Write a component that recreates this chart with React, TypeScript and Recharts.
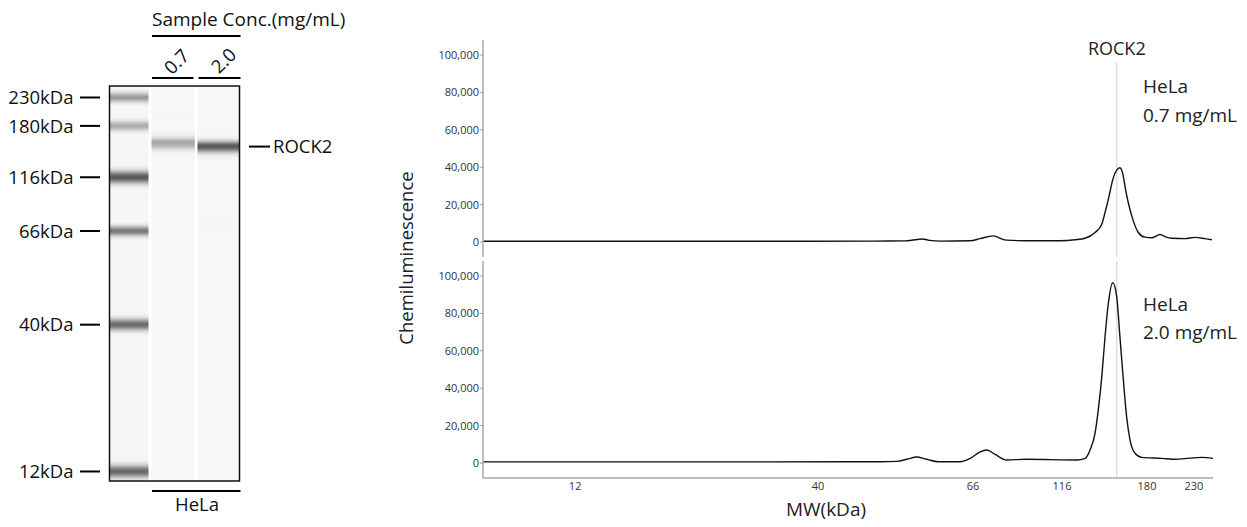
import React from 'react';
import { ComposedChart, LineChart, Line, XAxis, YAxis, ReferenceLine, ReferenceArea } from 'recharts';

// ---------------- data ----------------
// Ladder standards (kDa) and their migration distance (relative units, 12 kDa = 0)
const LADDER_MW = [12, 40, 66, 116, 180, 230];
const LADDER_MIGRATION = [0, 243, 398, 487, 572, 619];
const LADDER_INTENSITY = [0.58, 0.58, 0.52, 0.65, 0.31, 0.38];
const LADDER_BAND_SIGMA = [7, 6.5, 5.5, 7, 5.5, 5.5];

const MW_TICKS = [12, 40, 66, 116, 180, 230];
const SIGNAL_TICKS = [0, 20000, 40000, 60000, 80000, 100000];

const LANE_CONC = ['0.7', '2.0'];
const SAMPLE_NAME = 'HeLa';
const TARGET = 'ROCK2';
const TARGET_MW = 154;

// HeLa 0.7 mg/mL electropherogram
const MW_07 = [7.6, 13.6, 22.3, 36.6, 48.1, 53.0, 54.7, 56.0, 57.4, 59.3, 65.4, 69.0, 74.9, 81.4, 92.4, 114.5,
  124.1, 130.7, 137.6, 142.5, 144.9, 147.4, 151.2, 153.9, 156.5, 159.0, 160.6, 163.4, 167.7, 172.1, 178.1,
  184.8, 192.7, 198.8, 205.1, 219.5, 231.2, 243.6, 252.6];
const SIG_07 = [400, 400, 400, 400, 500, 600, 1200, 1600, 900, 500, 700, 1800, 3300, 1000, 700, 700,
  1200, 2000, 5100, 9500, 15800, 22800, 34300, 38400, 39700, 36000, 29900, 21000, 11300, 5100, 2600,
  2300, 4000, 2600, 2000, 1800, 2500, 1800, 1200];

// HeLa 2.0 mg/mL electropherogram
const MW_20 = [7.6, 22.3, 44.4, 48.9, 51.6, 53.3, 55.0, 56.8, 59.0, 63.3, 65.4, 69.0, 72.0, 75.9, 81.7, 92.4,
  125.4, 130.7, 134.1, 137.6, 139.9, 142.5, 144.9, 147.4, 150.8, 153.9, 156.5, 159.3, 162.0, 164.9, 169.2,
  175.1, 194.4, 208.3, 225.3, 239.4, 254.0];
const SIG_20 = [600, 600, 700, 700, 900, 2000, 3200, 2000, 700, 700, 2500, 6000, 7000, 4600, 1600, 2000,
  1600, 2500, 7000, 15900, 28300, 46200, 67500, 85400, 96400, 89000, 67500, 44400, 24800, 12300, 5200,
  3000, 2500, 2000, 2600, 3000, 2500];

const AXIS_MW_RANGE = [7.6, 254];
const GEL_MW_RANGE = [11.1, 254];
const SIGNAL_RANGE = [-8000, 108000];
const TARGET_LINE_TOP = 96000;

const FONT = '"Open Sans", "Noto Sans", sans-serif';

// ---------------- helpers ----------------
const LOG_LADDER = LADDER_MW.map((v) => Math.log10(v));
function migration(mw: number): number {
  const l = Math.log10(mw);
  const n = LOG_LADDER.length;
  let i = 0;
  if (l >= LOG_LADDER[n - 1]) i = n - 2;
  else if (l > LOG_LADDER[0]) {
    while (!(l >= LOG_LADDER[i] && l <= LOG_LADDER[i + 1])) i++;
  }
  const t = (l - LOG_LADDER[i]) / (LOG_LADDER[i + 1] - LOG_LADDER[i]);
  return LADDER_MIGRATION[i] + t * (LADDER_MIGRATION[i + 1] - LADDER_MIGRATION[i]);
}

const rows07 = MW_07.map((mw, i) => ({ m: migration(mw), v: SIG_07[i] }));
const rows20 = MW_20.map((mw, i) => ({ m: migration(mw), v: SIG_20[i] }));

const xDomain = [migration(AXIS_MW_RANGE[0]), migration(AXIS_MW_RANGE[1])];
const xTicks = MW_TICKS.map(migration);
const fmtMW = (m: number) => {
  const i = xTicks.findIndex((t) => Math.abs(t - m) < 0.5);
  return i >= 0 ? String(MW_TICKS[i]) : '';
};
const fmtSig = (v: number) => v.toLocaleString('en-US');
const targetM = migration(TARGET_MW);

// gel
const gelDomain = [migration(GEL_MW_RANGE[0]), migration(GEL_MW_RANGE[1])];
const ladderMig = LADDER_MW.map(migration);
const peakIdx20 = SIG_20.indexOf(Math.max(...SIG_20));
const targetGelM = migration(MW_20[peakIdx20]);
const globalPeak = Math.max(...SIG_07, ...SIG_20);

const gelOffset = (m: number) =>
  Math.min(1, Math.max(0, (gelDomain[1] - m) / (gelDomain[1] - gelDomain[0])));

function laneStops(mws: number[], sigs: number[]) {
  const peak = Math.max(...sigs);
  const laneLevel = 0.66 * Math.pow(peak / globalPeak, 0.8);
  return mws
    .map((mw, i) => ({ offset: gelOffset(migration(mw)), opacity: laneLevel * Math.pow(sigs[i] / peak, 2) }))
    .reverse();
}
function ladderStops() {
  const out: { offset: number; opacity: number }[] = [];
  const order = LADDER_MW.map((_, i) => i).sort((a, b) => LADDER_MIGRATION[b] - LADDER_MIGRATION[a]);
  for (const i of order) {
    for (let k = 3; k >= -3; k -= 0.5) {
      const m = LADDER_MIGRATION[i] + k * LADDER_BAND_SIGMA[i];
      out.push({ offset: gelOffset(m), opacity: LADDER_INTENSITY[i] * Math.exp((-k * k) / 2) });
    }
  }
  return out;
}

const LANES = [
  { id: 'gel-ladder', x1: 0, x2: 0.9, stops: ladderStops() },
  { id: 'gel-lane-1', x1: 0.97, x2: 1.97, stops: laneStops(MW_07, SIG_07) },
  { id: 'gel-lane-2', x1: 2.03, x2: 3, stops: laneStops(MW_20, SIG_20) },
];
const gelRows = [{ lane: 0 }, { lane: 1.5 }, { lane: 3 }];

const LadderTick = (props: any) => {
  const { x, y, payload } = props;
  const i = ladderMig.findIndex((t) => Math.abs(t - payload.value) < 0.5);
  if (i < 0) return null;
  return (
    <g>
      <line x1={x - 29.5} x2={x - 9.5} y1={y} y2={y} stroke="#000" strokeWidth={2} />
      <text x={x - 36} y={y} dy="0.36em" textAnchor="end" fontSize={18.5} fill="#111">
        {LADDER_MW[i]}kDa
      </text>
    </g>
  );
};
const TargetTick = (props: any) => {
  const { x, y } = props;
  return (
    <g>
      <line x1={x + 9.5} x2={x + 30.5} y1={y} y2={y} stroke="#000" strokeWidth={2} />
      <text x={x + 33.5} y={y} dy="0.36em" textAnchor="start" fontSize={18.5} fill="#111">
        {TARGET}
      </text>
    </g>
  );
};

function GelChart() {
  return (
    <ComposedChart width={380} height={527} data={gelRows} margin={{ top: 86, right: 10.5, bottom: 46, left: 9.5 }}>
      <defs>
        {LANES.map((ln) => (
          <linearGradient key={ln.id} id={ln.id} x1="0" y1="0" x2="0" y2="1">
            {ln.stops.map((s, j) => (
              <stop key={j} offset={s.offset} stopColor="#000" stopOpacity={s.opacity} />
            ))}
          </linearGradient>
        ))}
      </defs>
      <XAxis type="number" dataKey="lane" domain={[0, 3]} hide allowDataOverflow />
      <YAxis yAxisId="mw" type="number" domain={gelDomain} ticks={ladderMig} interval={0} width={100}
        tick={LadderTick} tickLine={false} axisLine={false} tickSize={0} tickMargin={0} allowDataOverflow />
      <YAxis yAxisId="target" orientation="right" type="number" domain={gelDomain} ticks={[targetGelM]} interval={0}
        width={130} tick={TargetTick} tickLine={false} axisLine={false} tickSize={0} tickMargin={0} allowDataOverflow />
      <ReferenceArea yAxisId="mw" x1={0} x2={3} y1={gelDomain[0]} y2={gelDomain[1]} fill="#ffffff" fillOpacity={1} stroke="none" />
      {LANES.map((ln) => (
        <ReferenceArea key={ln.id + '-bg'} yAxisId="mw" x1={ln.x1} x2={ln.x2} y1={gelDomain[0]} y2={gelDomain[1]}
          fill="#f7f7f7" fillOpacity={1} stroke="none" />
      ))}
      {LANES.map((ln) => (
        <ReferenceArea key={ln.id} yAxisId="mw" x1={ln.x1} x2={ln.x2} y1={gelDomain[0]} y2={gelDomain[1]}
          fill={`url(#${ln.id})`} fillOpacity={1} stroke="none" />
      ))}
      <ReferenceArea yAxisId="mw" x1={0} x2={3} y1={gelDomain[0]} y2={gelDomain[1]} fill="none" fillOpacity={0}
        stroke="#111" strokeWidth={1.5} />
    </ComposedChart>
  );
}

const yAxisProps = {
  type: 'number' as const,
  domain: SIGNAL_RANGE,
  ticks: SIGNAL_TICKS,
  interval: 0 as const,
  allowDataOverflow: true,
  width: 60,
  tickFormatter: fmtSig,
  tick: { fontSize: 11, fill: '#333' },
  tickSize: 3,
  tickMargin: 1,
  tickLine: { stroke: '#999' },
  axisLine: { stroke: '#a8a8a8', strokeWidth: 1.5 },
};

function TopTrace() {
  return (
    <LineChart width={830} height={240} data={rows07} margin={{ top: 20, right: 17, bottom: 3, left: 23 }}>
      <XAxis type="number" dataKey="m" domain={xDomain} allowDataOverflow hide />
      <YAxis {...yAxisProps} />
      <ReferenceLine
        segment={[{ x: targetM, y: SIGNAL_RANGE[0] }, { x: targetM, y: TARGET_LINE_TOP }]}
        stroke="#cfcfcf"
        strokeWidth={1}
        label={{ value: TARGET, position: 'top', offset: 7, fontSize: 18, fill: '#222' }}
      />
      <Line dataKey="v" type="monotone" stroke="#111" strokeWidth={1.4} dot={false} isAnimationActive={false} />
    </LineChart>
  );
}

function BottomTrace() {
  return (
    <LineChart width={830} height={269} data={rows20} margin={{ top: 3, right: 17, bottom: 19, left: 23 }}>
      <XAxis type="number" dataKey="m" domain={xDomain} ticks={xTicks} tickFormatter={fmtMW} interval={0}
        allowDataOverflow height={30} tickLine={false} tickSize={0} tickMargin={4}
        axisLine={{ stroke: '#a8a8a8', strokeWidth: 1.5 }} tick={{ fontSize: 11, fill: '#333' }} />
      <YAxis {...yAxisProps} />
      <ReferenceLine x={targetM} stroke="#cfcfcf" strokeWidth={1} />
      <Line dataKey="v" type="monotone" stroke="#111" strokeWidth={1.4} dot={false} isAnimationActive={false} />
    </LineChart>
  );
}

export default function App() {
  return (
    <div style={{ position: 'absolute', left: 0, top: 0, width: 1247, height: 527, background: '#fff', fontFamily: FONT, overflow: 'hidden' }}>
      <div style={{ position: 'absolute', left: 0, top: 0 }}><GelChart /></div>
      <div style={{ position: 'absolute', left: 400, top: 20 }}><TopTrace /></div>
      <div style={{ position: 'absolute', left: 400, top: 258 }}><BottomTrace /></div>
      <svg width={1247} height={527} style={{ position: 'absolute', left: 0, top: 0, pointerEvents: 'none', fontFamily: FONT }}>
        {/* gel header / footer */}
        <text x={152} y={26} fontSize={19} fill="#111">Sample Conc.(mg/mL)</text>
        <line x1={152} x2={240.5} y1={36} y2={36} stroke="#000" strokeWidth={2} />
        <text x={176} y={61} fontSize={18.5} fill="#111" textAnchor="middle" dominantBaseline="central" transform="rotate(-45 176 61)">{LANE_CONC[0]}</text>
        <text x={223} y={60} fontSize={18.5} fill="#111" textAnchor="middle" dominantBaseline="central" transform="rotate(-45 223 60)">{LANE_CONC[1]}</text>
        <line x1={152} x2={193.5} y1={78} y2={78} stroke="#000" strokeWidth={2} />
        <line x1={198.5} x2={240.5} y1={78} y2={78} stroke="#000" strokeWidth={2} />
        <line x1={152} x2={240.5} y1={491} y2={491} stroke="#000" strokeWidth={2} />
        <text x={197} y={511} fontSize={18.5} fill="#111" textAnchor="middle">{SAMPLE_NAME}</text>
        {/* trace annotations */}
        <text x={405} y={258} fontSize={18.5} fill="#222" textAnchor="middle" dominantBaseline="central" transform="rotate(-90 405 258)">Chemiluminescence</text>
        <text x={826} y={516} fontSize={19} fill="#222" textAnchor="middle">MW(kDa)</text>
        <text x={1143} y={93} fontSize={19} fill="#222">{SAMPLE_NAME}</text>
        <text x={1143} y={121.5} fontSize={19} fill="#222">{LANE_CONC[0]} mg/mL</text>
        <text x={1143} y={311} fontSize={19} fill="#222">{SAMPLE_NAME}</text>
        <text x={1143} y={339} fontSize={19} fill="#222">{LANE_CONC[1]} mg/mL</text>
      </svg>
    </div>
  );
}
